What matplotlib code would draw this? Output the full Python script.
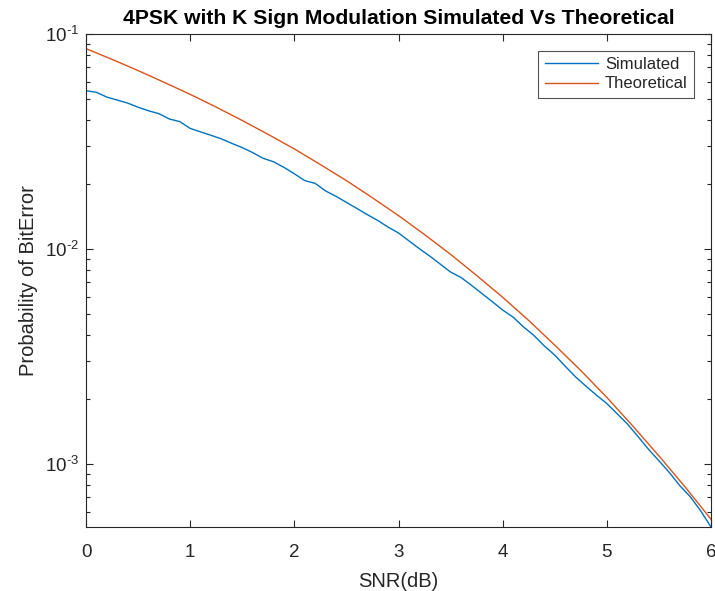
import numpy as np
import matplotlib
matplotlib.use("Agg")
import matplotlib.pyplot as plt
from matplotlib.ticker import LogLocator, FixedLocator, NullFormatter, FuncFormatter

plt.rcParams['font.family'] = ['Liberation Sans', 'DejaVu Sans']
plt.rcParams['mathtext.fontset'] = 'custom'
plt.rcParams['mathtext.rm'] = 'Liberation Sans'
plt.rcParams['mathtext.it'] = 'Liberation Sans'
plt.rcParams['mathtext.bf'] = 'Liberation Sans:bold'

# simulated BER, read at 0.1 dB steps
snr_sim = np.round(np.arange(0, 6.01, 0.1), 1)
ber_sim = [0.05447, 0.05355, 0.05087, 0.04927, 0.04771, 0.04566, 0.04394, 0.04260,
           0.04024, 0.03913, 0.03638, 0.03505, 0.03379, 0.03252, 0.03099, 0.02962,
           0.02808, 0.02642, 0.02545, 0.02397, 0.02238, 0.02080, 0.02019, 0.01862,
           0.01758, 0.01647, 0.01544, 0.01445, 0.01358, 0.01264, 0.01187, 0.01091,
           0.01003, 0.00927, 0.00851, 0.00781, 0.00737, 0.00678, 0.00621, 0.00569,
           0.00520, 0.00482, 0.00434, 0.00396, 0.00354, 0.00321, 0.00285, 0.00254,
           0.00230, 0.00209, 0.00191, 0.00171, 0.00153, 0.00134, 0.00117, 0.001035,
           0.000913, 0.000793, 0.000705, 0.000606, 0.000509]

# theoretical BER, read at 0.25 dB steps
snr_th = np.arange(0, 6.01, 0.25)
ber_th = [0.0855, 0.0762, 0.0676, 0.0596, 0.0524, 0.0457, 0.0396, 0.0341, 0.0292,
          0.0247, 0.0208, 0.0173, 0.0143, 0.01167, 0.00944, 0.00753, 0.00596,
          0.00465, 0.00357, 0.00272, 0.00204, 0.00150, 0.00109, 0.000783, 0.000553]

gray = (0.15, 0.15, 0.15)
fig = plt.figure(figsize=(7.15, 5.91), dpi=100)
ax = fig.add_axes([86 / 715, 64 / 591, 625 / 715, 493 / 591])

ax.semilogy(snr_sim, ber_sim, color=(0, 0.447, 0.741), lw=1.0, label="Simulated")
ax.semilogy(snr_th, ber_th, color=(0.85, 0.325, 0.098), lw=1.0, label="Theoretical")

ax.set_xlim(0, 6)
ax.set_ylim(min(ber_sim), 0.1)
ax.xaxis.set_major_locator(FixedLocator(range(7)))
ax.yaxis.set_major_locator(LogLocator(base=10, numticks=10))
ax.yaxis.set_minor_locator(LogLocator(base=10, subs=np.arange(2, 10), numticks=10))
ax.yaxis.set_minor_formatter(NullFormatter())

# MATLAB-style exponent with a short hyphen
def fmt_pow(v, pos):
    e = int(round(np.log10(v)))
    return "$\\mathdefault{10^{" + ("\u2010" if e < 0 else "") + str(abs(e)) + "}}$"
ax.yaxis.set_major_formatter(FuncFormatter(fmt_pow))

ax.tick_params(which='both', direction='in', top=True, right=True, colors=gray,
               labelsize=13.5, width=0.8)
ax.tick_params(which='major', length=5)
ax.tick_params(which='minor', length=3)
ax.tick_params(axis='x', pad=12)
ax.tick_params(axis='y', pad=5)
for s in ax.spines.values():
    s.set_color(gray)
    s.set_linewidth(0.8)

ax.set_xlabel("SNR(dB)", fontsize=14.5, color=gray, labelpad=8)
ax.set_ylabel("Probability of BitError", fontsize=14.5, color=gray, labelpad=5)
ax.set_title("4PSK with K Sign Modulation Simulated Vs Theoretical",
             fontsize=15.2, fontweight='bold', pad=7)

leg = ax.legend(loc='upper right', fontsize=12, frameon=True, fancybox=False,
                handlelength=3.2, borderaxespad=1.0, labelspacing=0.25,
                handletextpad=0.4, borderpad=0.4)
leg.get_frame().set_edgecolor(gray)
leg.get_frame().set_linewidth(0.8)
for t in leg.get_texts():
    t.set_color(gray)

fig.savefig("out.png", dpi=100)
